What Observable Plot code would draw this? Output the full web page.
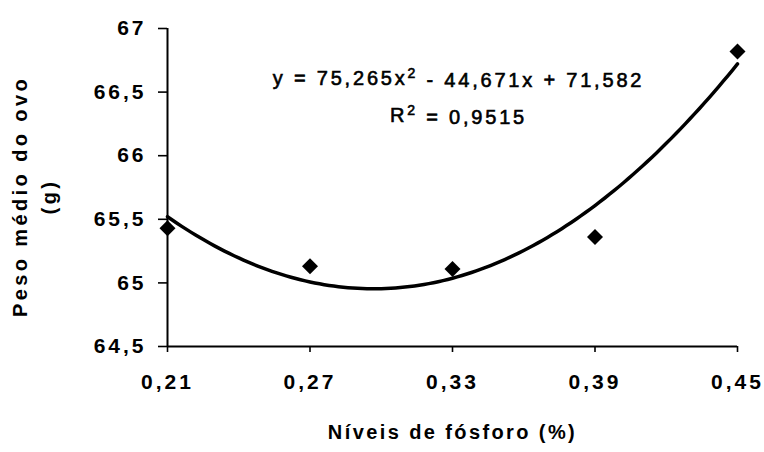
<!DOCTYPE html>
<html>
<head>
<meta charset="utf-8">
<script src="https://cdn.jsdelivr.net/npm/d3@7"></script>
<script src="https://cdn.jsdelivr.net/npm/@observablehq/plot@0.6"></script>
<style>
  html, body { margin: 0; padding: 0; background: #fff; }
</style>
</head>
<body>
<div id="chart"></div>
<script>
// Data
const phosphorusLevels = [0.21, 0.27, 0.33, 0.39, 0.45];
const eggWeight = [65.43, 65.13, 65.11, 65.36, 66.82];
const xTicks = [0.21, 0.27, 0.33, 0.39, 0.45];
const yTicks = [64.5, 65, 65.5, 66, 66.5, 67];
// Trendline coefficients printed on the chart (a, b, c for y = a x^2 + b x + c)
const fitCoefficients = [75.265, -44.671, 71.582];
const equationParts = ["y = 75,265x", "2", " - 44,671x + 71,582"];
const r2Parts = ["R", "2", " = 0,9515"];
const xTitle = "Níveis de fósforo (%)";
const yTitleLines = ["Peso médio do ovo", "(g)"];

const points = phosphorusLevels.map((x, i) => ({x, y: eggWeight[i]}));
const [a, b, c] = fitCoefficients;
const curve = d3.range(0.21, 0.45001, 0.002).map(x => ({x, y: a * x * x + b * x + c}));
const comma = d => String(d).replace(".", ",");
const FONT = "'Liberation Sans', Arial, sans-serif";

const chart = Plot.plot({
  width: 764,
  height: 452,
  marginLeft: 167,
  marginRight: 27,
  marginTop: 28,
  marginBottom: 106,
  style: {fontFamily: FONT, background: "#fff", color: "#000"},
  x: {domain: [0.21, 0.45], ticks: xTicks, tickFormat: comma, tickSize: 6, tickPadding: 22, label: null},
  y: {domain: [64.5, 67], ticks: yTicks, tickFormat: comma, tickSize: 9, tickPadding: 12, label: null},
  marks: [
    Plot.ruleX([0.21], {y1: 64.5, y2: 67, stroke: "#000", strokeWidth: 2}),
    Plot.ruleY([64.5], {x1: 0.21, x2: 0.45, stroke: "#000", strokeWidth: 2}),
    Plot.line(curve, {x: "x", y: "y", stroke: "#000", strokeWidth: 3.5}),
    Plot.dot(points, {x: "x", y: "y", symbol: "diamond2", r: 7.2, fill: "#000", stroke: "none"}),
    Plot.text([equationParts.join("")], {frameAnchor: "top", dx: 6, dy: 42, fontSize: 20, fill: "#000", className: "eq"}),
    Plot.text([r2Parts.join("")], {frameAnchor: "top", dx: 6, dy: 79, fontSize: 20, fill: "#000", className: "r2"}),
    Plot.text([xTitle], {frameAnchor: "bottom", dy: 92, fontSize: 20, fill: "#000", fontWeight: "bold", className: "xt"}),
    Plot.text([yTitleLines[0]], {frameAnchor: "left", textAnchor: "middle", dx: -147, dy: 9, rotate: -90, fontSize: 20, fill: "#000", fontWeight: "bold", className: "yt"}),
    Plot.text([yTitleLines[1]], {frameAnchor: "left", textAnchor: "middle", dx: -118, dy: 9, rotate: -90, fontSize: 20, fill: "#000", fontWeight: "bold", className: "yt"})
  ]
});

const svg = d3.select(chart);
// axis tick labels and tick lines
svg.selectAll("g[aria-label*='axis'] text")
  .style("font-family", FONT).style("font-weight", "bold")
  .style("font-size", "21px").style("letter-spacing", "3px");
svg.selectAll("g[aria-label*='axis'] path, g[aria-label*='axis'] line").attr("stroke-width", 1.6);

function superscriptify(sel, parts) {
  sel.each(function() {
    const t = d3.select(this);
    t.text(null);
    t.append("tspan").text(parts[0]);
    t.append("tspan").attr("dy", "-0.45em").style("font-size", "14px").text(parts[1]);
    t.append("tspan").attr("dy", "0.45em").text(parts[2]);
  });
}
svg.selectAll(".eq text, g.eq text").call(superscriptify, equationParts)
  .style("letter-spacing", "2.8px").attr("stroke", "#000").attr("stroke-width", 0.6);
svg.selectAll(".r2 text, g.r2 text").call(superscriptify, r2Parts)
  .style("letter-spacing", "2.8px").attr("stroke", "#000").attr("stroke-width", 0.6);
svg.selectAll(".xt text, g.xt text").style("letter-spacing", "2.4px");
svg.selectAll(".yt text, g.yt text").style("letter-spacing", "3.4px");
document.getElementById("chart").appendChild(chart);
</script>
</body>
</html>
